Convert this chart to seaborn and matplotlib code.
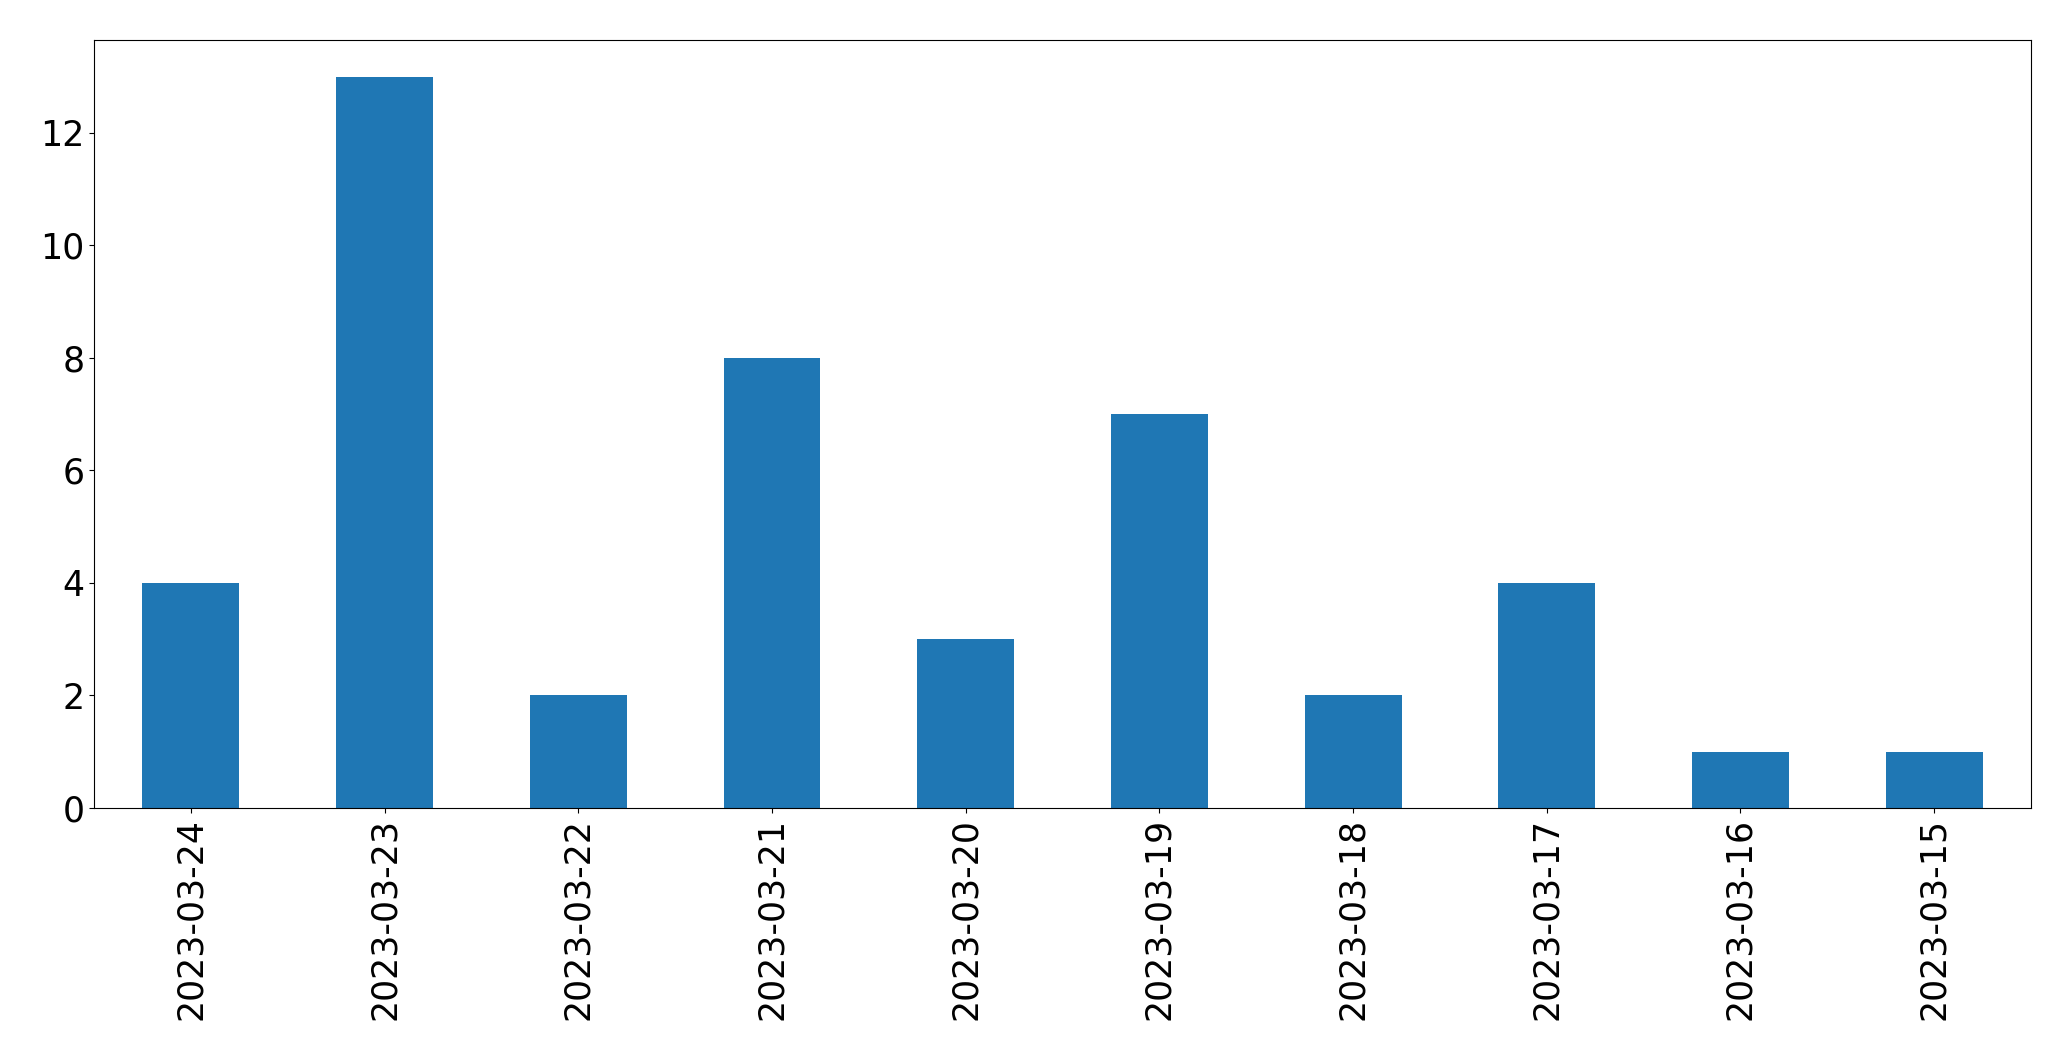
import matplotlib
matplotlib.use("Agg")
import matplotlib.pyplot as plt
import seaborn as sns
import pandas as pd

# fechas y conteos
dates = ['2023-03-24', '2023-03-23', '2023-03-22', '2023-03-21', '2023-03-20',
         '2023-03-19', '2023-03-18', '2023-03-17', '2023-03-16', '2023-03-15']
counts = [4, 13, 2, 8, 3, 7, 2, 4, 1, 1]

df = pd.DataFrame({'date': dates, 'count': counts})

fig, ax = plt.subplots(figsize=(20.71, 10.61), dpi=100)
sns.barplot(data=df, x='date', y='count', color='#1f77b4', saturation=1,
            width=0.5, ax=ax, order=dates, linewidth=0)

ax.set_xlim(-0.5, len(dates) - 0.5)
ax.set_ylim(0, 13.65)
ax.set_xlabel('')
ax.set_ylabel('')
ax.tick_params(axis='both', labelsize=25)
plt.xticks(rotation=90)

plt.subplots_adjust(left=0.0454, right=0.9807, top=0.9623, bottom=0.2385)
plt.savefig('out.png', dpi=100)
